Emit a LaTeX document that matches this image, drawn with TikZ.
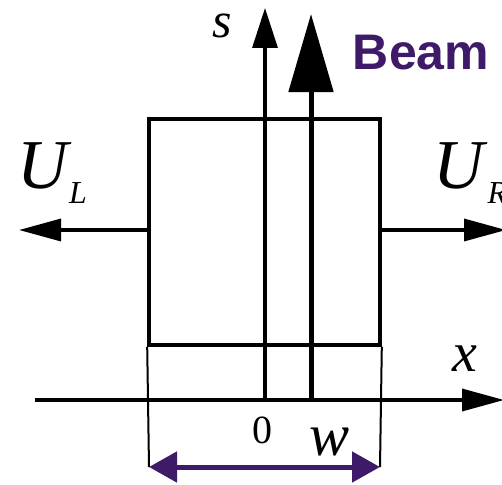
\documentclass[tikz,border=0pt]{standalone}
\usepackage{fontspec}
\setmainfont{Liberation Serif}
\newfontfamily\beamfont{Liberation Sans}
\usetikzlibrary{arrows.meta,positioning}
\definecolor{beampurple}{RGB}{62,26,104}

\begin{document}
\begin{tikzpicture}[x=1pt, y=-1pt, line width=3.4pt,
	>={Triangle[length=42pt,width=22pt]},
	lbl/.style={inner sep=0pt, font=\fontsize{56}{56}\selectfont\itshape}]
	\useasboundingbox (0,0) rectangle (502,484);

	% Spot of the beam
	\node[draw, line width=3.6pt, minimum width=231pt, minimum height=226pt, inner sep=0pt] (box) at (264.5,232) {};
	\coordinate (o) at (265,400);
	\coordinate (beamfoot) at (311,400);

	% Axes
	\coordinate (xstart) at (35,400);
	\coordinate (xend) at (504,400);
	\coordinate (stop) at (265,8);
	\draw[->] (xstart) -- (xend);
	\draw[-{Triangle[length=40pt,width=25pt]}] (o) -- (stop);
	\node[lbl] (xlbl) at (465,359) {x};
	\node[lbl, font=\fontsize{50}{50}\selectfont\itshape] (slbl) at (222,26) {s};
	\node[inner sep=0pt, font=\fontsize{40}{40}\selectfont] (zero) at (262,430) {0};

	% Beam
	\coordinate (beamtip) at (311,14);
	\draw[line width=5pt, -{Triangle[length=78pt,width=44pt]}] (beamfoot) -- (beamtip);
	\node[inner sep=0pt, text=beampurple, font=\fontsize{50}{50}\selectfont\beamfont\bfseries] (beam) at (421,53) {Beam};

	% Velocities
	\coordinate (uLtip) at (19,230);
	\coordinate (uRtip) at (506,230);
	\draw[->] (box.west |- uLtip) -- (uLtip);
	\draw[->] (box.east |- uRtip) -- (uRtip);
	\node[lbl, font=\fontsize{70}{70}\selectfont\itshape] (UL) at (43,166) {U};
	\node[lbl, font=\fontsize{32}{32}\selectfont\itshape] (L) at (78,193) {L};
	\node[lbl, font=\fontsize{70}{70}\selectfont\itshape] (UR) at (459,166) {U};
	\node[lbl, font=\fontsize{32}{32}\selectfont\itshape, anchor=west] (R) at (486,193) {R};

	% Width of the spot
	\coordinate (wl) at (149,467);
	\coordinate (wr) at (380,467);
	\draw[line width=2pt] (box.south west) -- (wl);
	\draw[line width=2pt] (box.south east) -- (wr);
	\draw[beampurple, line width=5pt, {Triangle[length=28pt,width=30pt]}-{Triangle[length=28pt,width=30pt]}] (wl) -- (wr);
	\node[lbl, font=\fontsize{60}{60}\selectfont\itshape] (wlbl) at (330,442) {w};
\end{tikzpicture}
\end{document}
